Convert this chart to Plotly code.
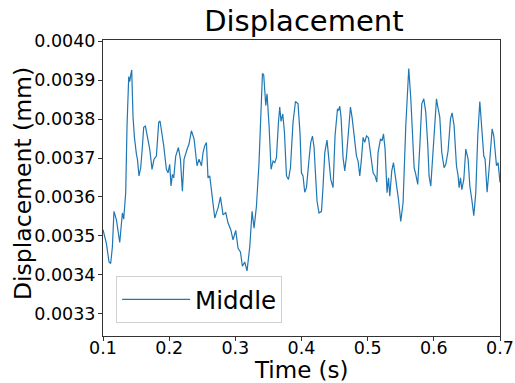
import plotly.graph_objects as go

time_s = [0.1000, 0.1051, 0.1091, 0.1116, 0.1142, 0.1166, 0.1203, 0.1253, 0.1293, 0.1313,
          0.1343, 0.1363, 0.1389, 0.1404, 0.1419, 0.1434, 0.1454, 0.1475, 0.1505, 0.1520,
          0.1544, 0.1570, 0.1596, 0.1615, 0.1641, 0.1671, 0.1706, 0.1741, 0.1771, 0.1807,
          0.1842, 0.1862, 0.1892, 0.1918, 0.1958, 0.1983, 0.2008, 0.2028, 0.2049, 0.2069,
          0.2099, 0.2140, 0.2170, 0.2200, 0.2225, 0.2250, 0.2276, 0.2300, 0.2336, 0.2376,
          0.2401, 0.2421, 0.2451, 0.2488, 0.2512, 0.2537, 0.2563, 0.2587, 0.2613, 0.2654,
          0.2689, 0.2714, 0.2739, 0.2775, 0.2814, 0.2855, 0.2890, 0.2931, 0.2965, 0.3006,
          0.3041, 0.3077, 0.3107, 0.3142, 0.3177, 0.3218, 0.3253, 0.3283, 0.3319, 0.3358,
          0.3384, 0.3410, 0.3429, 0.3460, 0.3479, 0.3510, 0.3540, 0.3570, 0.3596, 0.3621,
          0.3652, 0.3671, 0.3691, 0.3717, 0.3742, 0.3773, 0.3803, 0.3833, 0.3872, 0.3909,
          0.3948, 0.3978, 0.3999, 0.4023, 0.4049, 0.4075, 0.4114, 0.4140, 0.4166, 0.4190,
          0.4216, 0.4235, 0.4265, 0.4302, 0.4326, 0.4352, 0.4386, 0.4412, 0.4442, 0.4477,
          0.4507, 0.4544, 0.4559, 0.4578, 0.4598, 0.4628, 0.4654, 0.4680, 0.4710, 0.4740,
          0.4764, 0.4785, 0.4805, 0.4831, 0.4855, 0.4881, 0.4906, 0.4931, 0.4956, 0.4982,
          0.5012, 0.5032, 0.5058, 0.5082, 0.5112, 0.5138, 0.5157, 0.5194, 0.5218, 0.5239,
          0.5263, 0.5293, 0.5315, 0.5334, 0.5364, 0.5390, 0.5414, 0.5444, 0.5466, 0.5500,
          0.5535, 0.5576, 0.5621, 0.5652, 0.5677, 0.5702, 0.5727, 0.5757, 0.5788, 0.5818,
          0.5848, 0.5878, 0.5909, 0.5928, 0.5954, 0.5984, 0.6014, 0.6040, 0.6060, 0.6090,
          0.6120, 0.6155, 0.6181, 0.6215, 0.6252, 0.6276, 0.6306, 0.6342, 0.6367, 0.6382,
          0.6403, 0.6423, 0.6453, 0.6483, 0.6518, 0.6544, 0.6574, 0.6604, 0.6634, 0.6664,
          0.6695, 0.6720, 0.6755, 0.6775, 0.6805, 0.6835, 0.6881, 0.6906, 0.6947, 0.6971,
          0.7000]

displacement_mm = [0.003516, 0.003481, 0.003433, 0.003429, 0.003472, 0.003563, 0.003541, 0.003483, 0.003559, 0.003543,
                   0.003611, 0.003783, 0.003909, 0.003896, 0.003913, 0.003926, 0.003805, 0.003753, 0.003710, 0.003697,
                   0.003654, 0.003675, 0.003731, 0.003779, 0.003782, 0.003753, 0.003723, 0.003671, 0.003697, 0.003705,
                   0.003792, 0.003795, 0.003762, 0.003731, 0.003671, 0.003662, 0.003684, 0.003628, 0.003658, 0.003649,
                   0.003705, 0.003727, 0.003697, 0.003615, 0.003697, 0.003714, 0.003725, 0.003736, 0.003770, 0.003749,
                   0.003718, 0.003680, 0.003697, 0.003680, 0.003714, 0.003731, 0.003740, 0.003649, 0.003654, 0.003593,
                   0.003546, 0.003559, 0.003572, 0.003600, 0.003554, 0.003560, 0.003533, 0.003516, 0.003490, 0.003514,
                   0.003468, 0.003459, 0.003422, 0.003433, 0.003410, 0.003472, 0.003563, 0.003520, 0.003576, 0.003688,
                   0.003826, 0.003917, 0.003913, 0.003835, 0.003865, 0.003783, 0.003671, 0.003692, 0.003688, 0.003701,
                   0.003792, 0.003831, 0.003794, 0.003813, 0.003766, 0.003654, 0.003645, 0.003675, 0.003792, 0.003845,
                   0.003839, 0.003762, 0.003662, 0.003654, 0.003612, 0.003624, 0.003697, 0.003740, 0.003756, 0.003727,
                   0.003645, 0.003589, 0.003559, 0.003563, 0.003628, 0.003714, 0.003746, 0.003705, 0.003645, 0.003624,
                   0.003757, 0.003826, 0.003822, 0.003833, 0.003805, 0.003701, 0.003667, 0.003705, 0.003775, 0.003831,
                   0.003805, 0.003775, 0.003740, 0.003705, 0.003692, 0.003654, 0.003697, 0.003753, 0.003740, 0.003757,
                   0.003752, 0.003723, 0.003688, 0.003662, 0.003654, 0.003638, 0.003714, 0.003749, 0.003744, 0.003762,
                   0.003723, 0.003611, 0.003649, 0.003602, 0.003667, 0.003688, 0.003658, 0.003624, 0.003593, 0.003537,
                   0.003585, 0.003783, 0.003930, 0.003852, 0.003749, 0.003675, 0.003658, 0.003632, 0.003731, 0.003839,
                   0.003852, 0.003818, 0.003731, 0.003654, 0.003628, 0.003705, 0.003809, 0.003852, 0.003831, 0.003805,
                   0.003714, 0.003675, 0.003684, 0.003718, 0.003801, 0.003816, 0.003783, 0.003680, 0.003654, 0.003624,
                   0.003649, 0.003619, 0.003645, 0.003723, 0.003697, 0.003628, 0.003593, 0.003552, 0.003611, 0.003757,
                   0.003845, 0.003775, 0.003705, 0.003697, 0.003612, 0.003671, 0.003775, 0.003757, 0.003680, 0.003688,
                   0.003637]

series_name = "Middle"
x_ticks = [0.1, 0.2, 0.3, 0.4, 0.5, 0.6, 0.7]
y_ticks = [0.0033, 0.0034, 0.0035, 0.0036, 0.0037, 0.0038, 0.0039, 0.0040]

FONT = "DejaVu Sans"

fig = go.Figure()
fig.add_trace(go.Scatter(
    x=time_s, y=displacement_mm, mode="lines", name=series_name,
    line=dict(color="#1f77b4", width=1.2), showlegend=True,
))

axis_common = dict(
    showline=True, linecolor="#333333", linewidth=1, mirror=True,
    ticks="outside", ticklen=4, tickwidth=1, tickcolor="#333333",
    showgrid=False, zeroline=False, automargin=False,
    tickfont=dict(family=FONT, size=17.5, color="black"),
)

fig.update_layout(
    width=515, height=383,
    margin=dict(l=103, r=15, t=40, b=47),
    paper_bgcolor="white", plot_bgcolor="white",
    title=dict(text="Displacement", x=0.590, xanchor="center", y=0.945, yanchor="middle",
               font=dict(family=FONT, size=29, color="black")),
    xaxis=dict(range=[0.1, 0.7], tickvals=x_ticks, ticktext=[f"{v:.1f}" for v in x_ticks],
               ticklabelstandoff=-8, **axis_common),
    yaxis=dict(range=[0.003243, 0.004003], tickvals=y_ticks, ticktext=[f"{v:.4f}" for v in y_ticks],
               ticklabelstandoff=-1, **axis_common),
    legend=dict(x=0.033, y=0.044, xanchor="left", yanchor="bottom", itemwidth=68,
                bgcolor="rgba(255,255,255,0.8)", bordercolor="#d0d0d0", borderwidth=1,
                font=dict(family=FONT, size=24.5, color="black")),
    showlegend=True,
    annotations=[
        dict(text="Time (s)", xref="paper", yref="paper", x=0.5, y=0, xanchor="center",
             yanchor="middle", yshift=-33.5, showarrow=False, borderpad=0,
             font=dict(family=FONT, size=23, color="black")),
        dict(text="Displacement (mm)", xref="paper", yref="paper", x=0, y=0.5, xanchor="center",
             yanchor="middle", xshift=-80, yshift=4, textangle=-90, showarrow=False,
             font=dict(family=FONT, size=23.5, color="black")),
    ],
)

fig.write_html("out.html")
